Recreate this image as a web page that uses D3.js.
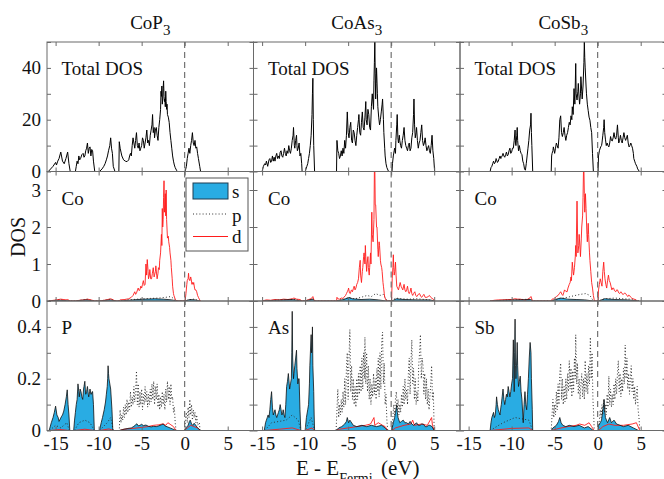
<!DOCTYPE html>
<html>
<head>
<meta charset="utf-8">
<script src="https://cdn.jsdelivr.net/npm/d3@7"></script>
<style>
body { margin: 0; background: #fff; }
svg { display: block; font-family: "Liberation Serif", "Times New Roman", serif; }
</style>
</head>
<body>
<script>
// compounds and the anion of each column
const compounds = ["CoP", "CoAs", "CoSb"];
const anions = ["P", "As", "Sb"];
const xTicks = [-15, -10, -5, 0, 5];
const totTicks = [0, 10, 20, 30, 40, 50];
const coTicks = [0, 1, 2, 3];
const anTicks = [0, 0.1, 0.2, 0.3, 0.4, 0.5];

// ---- CoP3 ----  [energy (eV), DOS]
const cop3Total = [[-15.85,0],[-15.3,2],[-15.0,3.5],[-14.9,2.5],[-14.75,4],[-14.6,5],[-14.4,7.5],[-14.2,4],[-14.0,3],[-13.8,5],[-13.6,7.5],[-13.45,3],[-13.3,0],
  [-12.7,0],[-12.6,2],[-12.5,4],[-12.4,3],[-12.3,6],[-12.2,4.5],[-12.1,5],[-11.95,6.5],[-11.8,7],[-11.7,5.5],[-11.6,6],[-11.5,8],[-11.4,9],[-11.3,11],[-11.2,7],[-11.1,9],[-11.0,9.5],[-10.9,6],[-10.8,8.5],[-10.7,8],[-10.6,4],[-10.45,0],
  [-9.9,0],[-9.6,1],[-9.4,2],[-9.25,3],[-9.1,4.5],[-8.97,6],[-8.85,8],[-8.7,10],[-8.6,13],[-8.5,9],[-8.4,7],[-8.3,2],[-8.1,0],
  [-7.65,0],[-7.6,11.5],[-7.5,9],[-7.4,7.5],[-7.3,6],[-7.1,4.5],[-6.9,4],[-6.7,3.8],[-6.5,4.5],[-6.4,6],[-6.3,7],[-6.2,6],[-6.1,10],[-6.0,13],[-5.9,11],[-5.8,9],[-5.7,12],[-5.6,15],[-5.5,10],[-5.4,9],[-5.3,11],[-5.2,8],[-5.1,9],[-5.0,10],[-4.9,13],[-4.8,12],[-4.7,9],[-4.6,11],[-4.5,13],[-4.4,16],[-4.3,11],[-4.2,12],[-4.1,10],[-4.0,14],[-3.9,16],[-3.8,18],[-3.73,22],[-3.65,15],[-3.55,17],[-3.5,13],[-3.4,16],[-3.3,17],[-3.2,14],[-3.1,12],[-3.0,17],[-2.9,20],[-2.8,24],[-2.75,31],[-2.7,29],[-2.65,33],[-2.6,26],[-2.55,28],[-2.5,32],[-2.45,35],[-2.4,29],[-2.35,27],[-2.3,28],[-2.25,25],[-2.2,31],[-2.15,27],[-2.1,24],[-2.05,26],[-2.0,22],[-1.9,21],[-1.8,19],[-1.7,15],[-1.6,12],[-1.5,9],[-1.4,6],[-1.3,4],[-1.2,2.5],[-1.1,1.5],[-0.95,0.5],[-0.85,0],
  [0.05,0],[0.2,2],[0.3,5],[0.4,7],[0.5,9],[0.6,7],[0.7,10],[0.8,12],[0.9,15],[1.0,11],[1.1,10],[1.2,12],[1.3,9],[1.4,9.5],[1.5,7],[1.6,5],[1.75,2],[1.85,0]];
const cop3CoS = [[-15.8,0],[-14.5,0.02],[-13.3,0],[-12.7,0],[-11.5,0.03],[-10.5,0],[-9.9,0],[-8.6,0.03],[-8.0,0],[-7.6,0],[-6.5,0.02],[-5.5,0.04],[-4.5,0.05],[-3.5,0.06],[-2.5,0.05],[-1.5,0.03],[-0.9,0],[0.0,0],[0.6,0.04],[1.2,0.03],[1.8,0]];
const cop3CoP = [[-15.8,0],[-14.4,0.04],[-13.3,0],[-12.7,0],[-11.4,0.05],[-10.5,0],[-9.9,0],[-8.6,0.05],[-8.0,0],[-7.6,0],[-7.0,0.03],[-6.0,0.04],[-5.0,0.06],[-4.0,0.07],[-3.0,0.08],[-2.2,0.1],[-1.6,0.12],[-1.2,0.05],[-0.9,0],[0.0,0],[0.5,0.03],[1.0,0.05],[1.8,0]];
const cop3CoD = [[-15.8,0],[-15.2,0.02],[-14.4,0.05],[-13.8,0.03],[-13.6,0.04],[-13.3,0],[-12.7,0],[-12.2,0.02],[-11.6,0.03],[-11.3,0.05],[-10.9,0.03],[-10.45,0],[-9.9,0],[-9.1,0.03],[-8.6,0.06],[-8.3,0.03],[-8.05,0],
  [-7.65,0],[-7.5,0.03],[-7.0,0.04],[-6.5,0.06],[-6.2,0.1],[-6.0,0.15],[-5.8,0.25],[-5.7,0.18],[-5.6,0.22],[-5.4,0.35],[-5.3,0.28],[-5.2,0.3],[-5.1,0.4],[-5.0,0.35],[-4.9,0.45],[-4.8,0.55],[-4.7,0.42],[-4.6,0.45],[-4.5,1.0],[-4.42,0.7],[-4.35,1.12],[-4.25,0.8],[-4.2,0.6],[-4.1,0.7],[-4.05,0.85],[-3.95,0.6],[-3.85,0.6],[-3.75,0.75],[-3.65,0.9],[-3.55,0.65],[-3.5,0.7],[-3.4,0.8],[-3.35,0.95],[-3.25,0.7],[-3.2,0.6],[-3.1,0.75],[-3.05,0.9],[-2.95,0.85],[-2.9,1.1],[-2.8,1.3],[-2.7,1.8],[-2.65,1.5],[-2.6,2.5],[-2.55,2.0],[-2.5,2.2],[-2.45,2.8],[-2.4,3.25],[-2.35,2.4],[-2.3,2.6],[-2.25,2.9],[-2.2,2.3],[-2.15,3.0],[-2.1,2.2],[-2.0,1.7],[-1.9,1.75],[-1.85,1.6],[-1.75,1.45],[-1.7,1.3],[-1.6,1.1],[-1.55,0.9],[-1.45,0.6],[-1.4,0.4],[-1.3,0.2],[-1.25,0.15],[-1.1,0.05],[-1.0,0.02],[-0.85,0],
  [0.05,0],[0.15,0.2],[0.25,0.45],[0.3,0.55],[0.4,0.6],[0.45,0.75],[0.5,0.6],[0.6,0.55],[0.7,0.65],[0.75,0.6],[0.85,0.45],[0.9,0.5],[1.0,0.45],[1.05,0.5],[1.15,0.35],[1.2,0.3],[1.3,0.3],[1.4,0.25],[1.5,0.15],[1.6,0.1],[1.7,0.05],[1.85,0]];
const cop3AnS = [[-15.75,0],[-15.5,0.03],[-15.3,0.05],[-15.15,0.07],[-15.0,0.094],[-14.85,0.06],[-14.7,0.05],[-14.6,0.035],[-14.45,0.045],[-14.3,0.055],[-14.2,0.06],[-14.05,0.075],[-13.9,0.1],[-13.75,0.13],[-13.65,0.157],[-13.55,0.1],[-13.45,0.06],[-13.35,0],
  [-12.9,0],[-12.8,0.04],[-12.7,0.07],[-12.6,0.1],[-12.5,0.12],[-12.4,0.18],[-12.3,0.15],[-12.25,0.13],[-12.15,0.16],[-12.05,0.15],[-11.95,0.13],[-11.85,0.12],[-11.75,0.16],[-11.7,0.17],[-11.6,0.19],[-11.55,0.16],[-11.5,0.14],[-11.4,0.15],[-11.3,0.17],[-11.2,0.14],[-11.15,0.13],[-11.05,0.15],[-11.0,0.16],[-10.9,0.14],[-10.85,0.14],[-10.75,0.15],[-10.7,0.15],[-10.6,0.1],[-10.5,0],
  [-9.9,0],[-9.7,0.03],[-9.55,0.05],[-9.35,0.08],[-9.2,0.11],[-9.1,0.14],[-9.0,0.17],[-8.95,0.2],[-8.9,0.25],[-8.85,0.22],[-8.8,0.2],[-8.7,0.18],[-8.6,0.16],[-8.45,0.08],[-8.35,0],
  [-7.6,0],[-7.2,0.004],[-6.6,0.008],[-6.2,0.01],[-5.9,0.016],[-5.7,0.022],[-5.55,0.026],[-5.4,0.018],[-5.2,0.02],[-5.0,0.024],[-4.8,0.019],[-4.5,0.021],[-4.2,0.016],[-3.9,0.014],[-3.6,0.016],[-3.3,0.015],[-3.0,0.018],[-2.7,0.022],[-2.5,0.025],[-2.3,0.018],[-2.0,0.014],[-1.7,0.01],[-1.4,0.006],[-1.0,0],
  [0.0,0],[0.2,0.012],[0.4,0.02],[0.55,0.035],[0.65,0.04],[0.8,0.025],[0.95,0.02],[1.1,0.028],[1.25,0.022],[1.45,0.012],[1.65,0.006],[1.85,0]];
const cop3AnP = [[-15.7,0],[-15.0,0.02],[-14.4,0.01],[-13.7,0.03],[-13.4,0],[-12.8,0],[-12.3,0.03],[-11.6,0.04],[-11.0,0.03],[-10.5,0],[-9.9,0],[-9.0,0.03],[-8.6,0.05],[-8.3,0],
  [-7.6,0],[-7.5,0.08],[-7.4,0.03],[-7.3,0.06],[-7.2,0.04],[-7.1,0.09],[-7.0,0.05],[-6.9,0.1],[-6.8,0.06],[-6.7,0.12],[-6.6,0.07],[-6.5,0.11],[-6.4,0.08],[-6.3,0.15],[-6.2,0.09],[-6.1,0.13],[-6.0,0.1],[-5.9,0.17],[-5.8,0.11],[-5.7,0.15],[-5.6,0.23],[-5.5,0.1],[-5.4,0.18],[-5.3,0.09],[-5.2,0.15],[-5.1,0.1],[-5.0,0.16],[-4.9,0.08],[-4.8,0.14],[-4.7,0.1],[-4.6,0.17],[-4.5,0.11],[-4.4,0.15],[-4.3,0.09],[-4.2,0.14],[-4.1,0.1],[-4.0,0.16],[-3.9,0.11],[-3.8,0.18],[-3.7,0.12],[-3.6,0.19],[-3.5,0.1],[-3.4,0.17],[-3.3,0.12],[-3.2,0.18],[-3.1,0.09],[-3.0,0.14],[-2.9,0.08],[-2.8,0.13],[-2.7,0.09],[-2.6,0.15],[-2.5,0.1],[-2.4,0.14],[-2.3,0.08],[-2.2,0.16],[-2.1,0.11],[-2.0,0.19],[-1.9,0.12],[-1.8,0.17],[-1.7,0.1],[-1.6,0.18],[-1.5,0.12],[-1.4,0.13],[-1.3,0.07],[-1.2,0.09],[-1.1,0.03],[-1.0,0],
  [0.0,0],[0.1,0.05],[0.2,0.07],[0.3,0.03],[0.4,0.09],[0.5,0.05],[0.6,0.12],[0.7,0.06],[0.8,0.1],[0.9,0.04],[1.0,0.08],[1.1,0.05],[1.2,0.07],[1.3,0.03],[1.4,0.06],[1.5,0.02],[1.7,0.03],[1.8,0]];
const cop3AnD = [[-15.7,0],[-14.5,0.004],[-13.4,0],[-12.8,0],[-11.6,0.005],[-10.5,0],[-9.9,0],[-8.8,0.006],[-8.3,0],[-7.6,0],[-7.0,0.005],[-6.0,0.008],[-5.0,0.012],[-4.3,0.015],[-3.6,0.02],[-3.0,0.022],[-2.5,0.026],[-2.2,0.02],[-1.95,0.03],[-1.6,0.022],[-1.3,0.015],[-1.0,0],
  [0.0,0],[0.3,0.01],[0.7,0.02],[1.1,0.015],[1.5,0.01],[1.8,0]];

// ---- CoAs3 ----
const coas3Total = [[-15.0,0],[-14.85,2],[-14.7,3],[-14.6,2.5],[-14.5,4],[-14.35,2],[-14.2,4.5],[-14.1,5],[-14.0,3.5],[-13.9,4],[-13.8,6],[-13.7,4],[-13.6,5.5],[-13.5,4],[-13.4,6],[-13.3,7],[-13.2,5],[-13.1,6],[-13.0,5],[-12.9,7.5],[-12.8,8],[-12.7,6],[-12.6,5.5],[-12.5,7],[-12.4,9],[-12.3,7],[-12.2,6],[-12.1,8],[-12.0,7],[-11.9,10],[-11.8,8],[-11.7,7],[-11.6,9],[-11.5,12],[-11.4,14],[-11.35,17],[-11.25,10],[-11.2,9],[-11.1,12],[-11.0,14],[-10.95,10],[-10.9,8],[-10.8,9],[-10.7,11],[-10.6,6],[-10.5,7],[-10.4,3],[-10.35,0],
  [-10.0,0],[-9.8,2],[-9.7,3],[-9.6,5],[-9.5,7],[-9.4,10],[-9.3,14],[-9.2,22],[-9.15,30],[-9.1,36],[-9.05,20],[-9.0,10],[-8.9,0],
  [-6.35,0],[-6.3,12],[-6.2,8],[-6.1,7],[-6.0,5],[-5.9,6],[-5.8,8],[-5.7,6],[-5.6,9],[-5.5,7],[-5.4,12],[-5.3,9],[-5.2,14],[-5.1,23],[-5.0,15],[-4.9,13],[-4.8,17],[-4.7,19],[-4.6,12],[-4.5,11],[-4.4,16],[-4.3,15],[-4.2,12],[-4.1,10],[-4.0,14],[-3.9,17],[-3.8,20],[-3.75,22],[-3.65,15],[-3.55,14],[-3.45,19],[-3.35,23],[-3.25,17],[-3.15,16],[-3.05,21],[-2.95,27],[-2.9,20],[-2.8,18],[-2.7,24],[-2.6,22],[-2.5,17],[-2.4,16],[-2.3,25],[-2.2,30],[-2.1,26],[-2.05,24],[-2.0,35],[-1.95,42],[-1.9,50],[-1.85,38],[-1.8,28],[-1.75,34],[-1.7,40],[-1.6,30],[-1.55,25],[-1.45,21],[-1.35,18],[-1.25,20],[-1.15,23],[-1.05,26],[-1.0,28],[-0.9,20],[-0.85,15],[-0.75,9],[-0.7,6],[-0.6,3],[-0.5,1.5],[-0.3,0],
  [0.1,0],[0.15,3],[0.25,6],[0.35,8],[0.4,9],[0.5,7],[0.55,12],[0.65,18],[0.7,22],[0.78,13],[0.85,11],[0.95,14],[1.0,12],[1.1,10],[1.2,9],[1.3,12],[1.4,14],[1.5,17],[1.6,12],[1.7,10],[1.8,9],[1.9,8],[2.0,10],[2.1,11],[2.2,8],[2.3,9],[2.4,13],[2.5,15],[2.6,22],[2.65,28],[2.72,18],[2.8,13],[2.9,15],[2.95,17],[3.05,12],[3.15,9],[3.25,11],[3.35,12],[3.45,15],[3.55,18],[3.65,12],[3.75,10],[3.85,11],[3.95,13],[4.05,10],[4.15,8],[4.25,9],[4.35,10],[4.45,8],[4.55,7],[4.65,10],[4.75,14],[4.85,8],[4.95,5],[5.05,0]];
const coas3CoS = [[-15.0,0],[-13.5,0.02],[-11.5,0.04],[-10.4,0],[-10.0,0],[-9.1,0.05],[-8.9,0],[-6.35,0],[-5.5,0.04],[-4.9,0.1],[-4.5,0.06],[-3.5,0.04],[-2.5,0.05],[-1.5,0.03],[-0.6,0],[0.1,0],[0.6,0.06],[1.5,0.04],[3.0,0.03],[4.5,0.03],[5.05,0]];
const coas3CoP = [[-15.0,0],[-12.5,0.03],[-11.3,0.05],[-10.4,0],[-10.0,0],[-9.1,0.06],[-8.9,0],[-6.35,0],[-5.8,0.04],[-5.0,0.08],[-4.2,0.06],[-3.5,0.1],[-2.8,0.15],[-2.3,0.12],[-1.8,0.2],[-1.3,0.15],[-0.9,0.18],[-0.6,0.05],[-0.4,0],[0.1,0],[0.5,0.08],[1.2,0.06],[2.0,0.05],[3.0,0.06],[4.0,0.04],[5.0,0]];
const coas3CoD = [[-15.0,0],[-14.5,0.03],[-14.0,0.02],[-13.5,0.04],[-13.0,0.03],[-12.5,0.05],[-12.0,0.04],[-11.5,0.06],[-11.3,0.08],[-11.0,0.05],[-10.6,0.04],[-10.35,0],[-10.0,0],[-9.6,0.04],[-9.3,0.06],[-9.1,0.12],[-9.0,0.05],[-8.9,0],
  [-6.35,0],[-6.3,0.1],[-6.2,0.06],[-6.0,0.05],[-5.8,0.08],[-5.6,0.07],[-5.5,0.1],[-5.3,0.15],[-5.2,0.2],[-5.1,0.25],[-5.0,0.3],[-4.95,0.35],[-4.85,0.22],[-4.75,0.2],[-4.65,0.28],[-4.6,0.3],[-4.5,0.25],[-4.4,0.33],[-4.3,0.4],[-4.2,0.3],[-4.1,0.35],[-4.0,0.45],[-3.9,0.5],[-3.8,0.6],[-3.7,0.9],[-3.6,1.1],[-3.55,0.7],[-3.45,0.5],[-3.35,0.8],[-3.3,0.9],[-3.2,1.2],[-3.15,1.3],[-3.05,1.0],[-3.0,1.5],[-2.95,1.2],[-2.85,0.8],[-2.8,1.0],[-2.7,1.2],[-2.65,0.9],[-2.55,0.7],[-2.5,0.9],[-2.4,1.3],[-2.35,1.0],[-2.25,2.4],[-2.2,1.8],[-2.1,1.6],[-2.0,2.2],[-1.95,3.5],[-1.9,3.6],[-1.85,2.6],[-1.8,2.6],[-1.7,2.0],[-1.65,2.0],[-1.55,1.4],[-1.5,1.2],[-1.4,1.6],[-1.35,1.5],[-1.25,1.1],[-1.2,1.0],[-1.1,0.9],[-1.05,0.8],[-0.95,0.5],[-0.9,0.4],[-0.8,0.2],[-0.75,0.1],[-0.6,0.03],[-0.5,0],
  [0.05,0],[0.12,0.6],[0.2,0.9],[0.25,1.25],[0.3,0.9],[0.35,0.7],[0.42,0.8],[0.5,1.05],[0.57,0.7],[0.65,0.4],[0.75,0.35],[0.85,0.3],[0.95,0.4],[1.05,0.5],[1.15,0.4],[1.25,0.35],[1.35,0.3],[1.5,0.45],[1.6,0.3],[1.7,0.25],[1.8,0.3],[1.9,0.4],[2.0,0.25],[2.1,0.2],[2.2,0.25],[2.3,0.35],[2.4,0.2],[2.5,0.15],[2.6,0.2],[2.75,0.25],[2.85,0.15],[3.0,0.12],[3.15,0.18],[3.3,0.2],[3.45,0.12],[3.55,0.1],[3.7,0.15],[3.8,0.18],[3.95,0.1],[4.15,0.1],[4.3,0.12],[4.45,0.15],[4.6,0.1],[4.75,0.07],[4.9,0.05],[5.05,0]];
const coas3AnS = [[-14.75,0],[-14.6,0.03],[-14.5,0.04],[-14.4,0.05],[-14.3,0.06],[-14.2,0.05],[-14.1,0.08],[-14.0,0.12],[-13.9,0.15],[-13.8,0.09],[-13.7,0.06],[-13.6,0.07],[-13.5,0.08],[-13.4,0.06],[-13.3,0.05],[-13.2,0.06],[-13.1,0.07],[-13.0,0.08],[-12.9,0.1],[-12.8,0.08],[-12.7,0.06],[-12.6,0.07],[-12.55,0.08],[-12.45,0.06],[-12.35,0.05],[-12.25,0.1],[-12.15,0.17],[-12.05,0.19],[-11.95,0.22],[-11.85,0.18],[-11.8,0.16],[-11.7,0.18],[-11.6,0.2],[-11.55,0.3],[-11.5,0.46],[-11.45,0.28],[-11.35,0.2],[-11.3,0.22],[-11.2,0.25],[-11.1,0.28],[-11.0,0.31],[-10.95,0.24],[-10.85,0.18],[-10.75,0.2],[-10.7,0.2],[-10.6,0.08],[-10.5,0],
  [-10.0,0],[-9.85,0.05],[-9.7,0.08],[-9.6,0.1],[-9.5,0.18],[-9.45,0.25],[-9.35,0.33],[-9.3,0.37],[-9.25,0.3],[-9.2,0.32],[-9.15,0.4],[-9.1,0.25],[-9.0,0.15],[-8.95,0.06],[-8.9,0],
  [-6.4,0],[-6.1,0.01],[-5.75,0.015],[-5.4,0.025],[-5.2,0.035],[-5.1,0.05],[-4.95,0.03],[-4.8,0.04],[-4.7,0.035],[-4.4,0.02],[-4.0,0.015],[-3.4,0.02],[-2.85,0.015],[-2.3,0.02],[-1.7,0.015],[-1.1,0.02],[-0.7,0.01],[-0.4,0],
  [0.05,0],[0.25,0.03],[0.4,0.05],[0.5,0.07],[0.6,0.09],[0.65,0.1],[0.72,0.07],[0.8,0.05],[1.0,0.03],[1.2,0.035],[1.4,0.04],[1.6,0.03],[1.8,0.03],[2.0,0.025],[2.2,0.035],[2.4,0.025],[2.6,0.02],[2.8,0.025],[2.95,0.03],[3.15,0.02],[3.35,0.02],[3.55,0.025],[3.75,0.025],[3.95,0.015],[4.15,0.015],[4.35,0.02],[4.5,0.02],[4.75,0.015],[5.0,0]];
const coas3AnP = [[-14.7,0],[-13.9,0.03],[-12.2,0.04],[-11.5,0.06],[-10.8,0.04],[-10.5,0],[-10.0,0],[-9.3,0.05],[-8.9,0],
  [-6.4,0],[-6.3,0.08],[-6.2,0.16],[-6.1,0.05],[-6.0,0.1],[-5.9,0.06],[-5.8,0.12],[-5.7,0.07],[-5.6,0.15],[-5.5,0.09],[-5.4,0.2],[-5.3,0.1],[-5.2,0.24],[-5.1,0.3],[-5.0,0.12],[-4.9,0.28],[-4.8,0.39],[-4.7,0.15],[-4.6,0.25],[-4.5,0.12],[-4.4,0.2],[-4.3,0.1],[-4.2,0.17],[-4.1,0.09],[-4.0,0.2],[-3.9,0.12],[-3.8,0.22],[-3.7,0.14],[-3.6,0.25],[-3.5,0.15],[-3.4,0.28],[-3.3,0.16],[-3.2,0.3],[-3.1,0.2],[-3.05,0.36],[-2.95,0.18],[-2.85,0.3],[-2.75,0.15],[-2.65,0.25],[-2.55,0.12],[-2.45,0.2],[-2.35,0.1],[-2.25,0.18],[-2.15,0.13],[-2.05,0.22],[-1.95,0.14],[-1.85,0.2],[-1.75,0.12],[-1.65,0.24],[-1.55,0.15],[-1.5,0.28],[-1.4,0.13],[-1.3,0.3],[-1.2,0.16],[-1.1,0.34],[-1.0,0.38],[-0.9,0.18],[-0.8,0.26],[-0.7,0.1],[-0.6,0.14],[-0.5,0.04],[-0.4,0],
  [0.1,0],[0.2,0.05],[0.3,0.1],[0.4,0.06],[0.5,0.12],[0.6,0.15],[0.7,0.08],[0.8,0.12],[0.9,0.06],[1.0,0.1],[1.1,0.07],[1.2,0.14],[1.3,0.09],[1.4,0.17],[1.5,0.1],[1.6,0.2],[1.7,0.12],[1.8,0.16],[1.9,0.1],[2.0,0.22],[2.1,0.28],[2.2,0.14],[2.3,0.26],[2.4,0.35],[2.5,0.18],[2.6,0.24],[2.7,0.12],[2.8,0.2],[2.9,0.1],[3.0,0.15],[3.1,0.11],[3.2,0.25],[3.3,0.3],[3.4,0.37],[3.5,0.2],[3.6,0.28],[3.7,0.25],[3.8,0.14],[3.9,0.22],[4.0,0.12],[4.1,0.2],[4.2,0.1],[4.3,0.16],[4.4,0.08],[4.5,0.13],[4.6,0.18],[4.7,0.25],[4.8,0.12],[4.9,0.15],[5.0,0]];
const coas3AnD = [[-14.7,0],[-13.0,0.005],[-11.5,0.01],[-10.5,0],[-10.0,0],[-9.2,0.01],[-8.9,0],[-6.4,0],[-6.0,0.005],[-5.0,0.01],[-4.0,0.015],[-3.0,0.02],[-2.4,0.025],[-2.0,0.05],[-1.9,0.02],[-1.5,0.03],[-1.0,0.02],[-0.7,0.015],[-0.4,0],
  [0.1,0],[0.5,0.01],[1.5,0.02],[2.3,0.025],[2.5,0.04],[2.7,0.02],[3.5,0.025],[4.2,0.02],[4.7,0.05],[4.8,0.02],[5.0,0]];

// ---- CoSb3 ----
const cosb3Total = [[-12.5,0],[-12.4,1.5],[-12.3,2],[-12.2,3],[-12.1,4],[-12.0,3],[-11.9,3.5],[-11.8,5],[-11.75,4.5],[-11.65,3.5],[-11.55,4],[-11.45,5],[-11.35,6],[-11.25,5],[-11.2,5.5],[-11.1,6],[-11.0,7],[-10.9,6],[-10.8,5.5],[-10.7,6.5],[-10.6,7.5],[-10.5,6],[-10.4,6.5],[-10.3,8],[-10.2,9],[-10.1,7],[-10.0,7.5],[-9.9,9],[-9.8,9],[-9.7,12],[-9.6,16],[-9.55,11],[-9.5,10],[-9.4,14],[-9.35,17],[-9.3,12],[-9.2,8],[-9.1,10],[-9.0,8],[-8.9,7],[-8.8,6.5],[-8.7,4],[-8.6,3],[-8.5,1],[-8.4,0.5],[-8.3,3],[-8.2,6],[-8.1,9],[-8.0,12],[-7.9,16],[-7.8,18],[-7.75,22.5],[-7.7,15],[-7.65,10],[-7.55,0],
  [-5.4,0],[-5.35,6],[-5.3,7],[-5.2,8],[-5.15,9.5],[-5.05,8],[-5.0,7],[-4.9,9],[-4.8,11],[-4.7,10],[-4.6,9],[-4.5,13],[-4.4,20],[-4.3,21.5],[-4.2,15],[-4.1,13.5],[-4.0,15],[-3.9,17],[-3.8,14],[-3.7,12],[-3.6,14],[-3.5,15],[-3.4,17],[-3.3,19],[-3.2,18],[-3.1,21.5],[-3.0,20],[-2.95,25],[-2.85,22],[-2.75,32],[-2.65,26],[-2.55,41.7],[-2.5,30],[-2.4,27.6],[-2.3,31],[-2.25,34],[-2.15,28],[-2.1,26],[-2.0,30],[-1.95,36.6],[-1.85,31],[-1.8,28],[-1.7,33],[-1.6,42],[-1.55,50],[-1.5,44],[-1.45,40],[-1.35,33],[-1.3,30],[-1.2,26],[-1.1,23.5],[-1.0,21],[-0.9,19.8],[-0.8,17],[-0.7,15],[-0.6,7],[-0.5,0],
  [0.05,0],[0.1,6],[0.2,8],[0.35,9.5],[0.45,10],[0.5,11],[0.6,14],[0.7,17],[0.75,20],[0.82,15],[0.9,12.5],[1.0,10],[1.1,11],[1.2,10],[1.3,9.5],[1.4,11],[1.5,13.5],[1.6,12],[1.7,11.8],[1.8,13],[1.9,15],[2.0,13],[2.1,12.5],[2.2,14],[2.3,18],[2.4,13],[2.45,11],[2.55,12],[2.65,14],[2.75,12],[2.85,11],[2.95,13],[3.05,15],[3.15,13],[3.25,12],[3.35,13],[3.45,14],[3.55,11],[3.65,9.5],[3.75,10],[3.85,11],[3.95,10],[4.05,9],[4.15,7],[4.2,5],[4.3,4],[4.4,3],[4.55,2],[4.65,1],[4.85,0]];
const cosb3CoS = [[-12.5,0],[-11.0,0.02],[-9.5,0.03],[-7.8,0.04],[-7.55,0],[-5.4,0],[-4.8,0.05],[-4.3,0.08],[-3.5,0.05],[-2.5,0.04],[-1.5,0.03],[-0.5,0],[0.1,0],[0.8,0.06],[2.0,0.04],[3.5,0.03],[4.8,0]];
const cosb3CoP = [[-12.5,0],[-10.0,0.03],[-7.8,0.05],[-7.55,0],[-5.4,0],[-4.5,0.06],[-3.5,0.1],[-2.8,0.14],[-2.0,0.18],[-1.4,0.2],[-0.9,0.15],[-0.5,0],[0.1,0],[0.8,0.06],[2.0,0.08],[3.0,0.06],[4.0,0.05],[4.8,0]];
const cosb3CoD = [[-12.5,0],[-12.0,0.02],[-11.5,0.03],[-11.0,0.03],[-10.5,0.04],[-10.0,0.04],[-9.6,0.06],[-9.3,0.05],[-9.0,0.05],[-8.6,0.03],[-8.4,0.02],[-8.1,0.05],[-7.8,0.1],[-7.75,0.12],[-7.65,0.05],[-7.55,0],
  [-5.4,0],[-5.3,0.05],[-5.1,0.06],[-5.0,0.08],[-4.8,0.12],[-4.6,0.15],[-4.45,0.2],[-4.3,0.25],[-4.15,0.18],[-4.05,0.15],[-3.95,0.22],[-3.85,0.3],[-3.7,0.26],[-3.55,0.25],[-3.45,0.35],[-3.3,0.45],[-3.2,0.5],[-3.1,0.65],[-3.05,0.55],[-2.95,1.05],[-2.85,0.8],[-2.8,0.7],[-2.7,0.9],[-2.6,1.2],[-2.55,1.5],[-2.5,1.2],[-2.45,2.0],[-2.4,2.7],[-2.35,2.0],[-2.3,1.3],[-2.2,1.5],[-2.15,1.8],[-2.05,1.4],[-2.0,1.2],[-1.9,1.7],[-1.85,2.0],[-1.75,2.3],[-1.7,2.8],[-1.65,3.5],[-1.6,3.6],[-1.55,2.9],[-1.5,2.4],[-1.42,2.9],[-1.35,2.5],[-1.25,1.8],[-1.2,1.6],[-1.1,2.1],[-1.05,1.8],[-0.95,1.3],[-0.9,1.1],[-0.8,0.8],[-0.7,0.5],[-0.6,0.35],[-0.5,0.15],[-0.4,0.03],[-0.35,0],
  [0.05,0],[0.1,0.3],[0.2,0.45],[0.3,0.6],[0.4,0.5],[0.5,0.4],[0.6,0.8],[0.7,1.05],[0.77,0.8],[0.85,0.6],[0.95,0.45],[1.05,0.35],[1.15,0.55],[1.25,0.7],[1.35,0.55],[1.45,0.5],[1.55,0.4],[1.65,0.3],[1.75,0.35],[1.85,0.35],[1.95,0.28],[2.1,0.25],[2.2,0.3],[2.3,0.3],[2.45,0.22],[2.55,0.2],[2.7,0.25],[2.8,0.22],[2.9,0.18],[3.0,0.18],[3.15,0.22],[3.25,0.2],[3.4,0.15],[3.5,0.12],[3.6,0.16],[3.7,0.15],[3.85,0.1],[3.95,0.08],[4.1,0.06],[4.35,0.04],[4.65,0]];
const cosb3AnS = [[-12.5,0],[-12.4,0.03],[-12.3,0.05],[-12.2,0.06],[-12.1,0.07],[-12.0,0.05],[-11.9,0.06],[-11.8,0.1],[-11.75,0.13],[-11.65,0.1],[-11.55,0.08],[-11.45,0.07],[-11.35,0.06],[-11.25,0.09],[-11.2,0.1],[-11.1,0.13],[-11.0,0.16],[-10.9,0.12],[-10.8,0.1],[-10.7,0.12],[-10.6,0.14],[-10.5,0.13],[-10.4,0.17],[-10.3,0.15],[-10.2,0.13],[-10.1,0.15],[-10.0,0.18],[-9.9,0.2],[-9.8,0.35],[-9.75,0.25],[-9.7,0.15],[-9.65,0.3],[-9.6,0.43],[-9.55,0.25],[-9.5,0.2],[-9.4,0.28],[-9.35,0.34],[-9.3,0.25],[-9.2,0.17],[-9.1,0.19],[-9.0,0.21],[-8.9,0.15],[-8.8,0.12],[-8.7,0.06],[-8.65,0.03],[-8.55,0.1],[-8.45,0.15],[-8.35,0.1],[-8.25,0.08],[-8.15,0.14],[-8.05,0.2],[-7.95,0.28],[-7.85,0.34],[-7.75,0.3],[-7.7,0.2],[-7.6,0.08],[-7.55,0],
  [-5.4,0],[-5.2,0.01],[-4.8,0.02],[-4.55,0.035],[-4.4,0.05],[-4.25,0.03],[-4.05,0.02],[-3.7,0.015],[-3.3,0.02],[-2.75,0.015],[-2.15,0.02],[-1.55,0.01],[-1.1,0.015],[-0.5,0],
  [0.05,0],[0.1,0.02],[0.3,0.03],[0.45,0.04],[0.6,0.08],[0.7,0.1],[0.75,0.12],[0.82,0.08],[0.9,0.05],[1.15,0.03],[1.4,0.05],[1.6,0.03],[1.9,0.04],[2.2,0.025],[2.6,0.02],[3.0,0.015],[3.55,0.02],[4.15,0.01],[4.75,0]];
const cosb3AnP = [[-12.5,0],[-11.0,0.03],[-9.6,0.05],[-8.0,0.04],[-7.55,0],
  [-5.4,0],[-5.3,0.06],[-5.2,0.12],[-5.1,0.05],[-5.0,0.1],[-4.9,0.06],[-4.8,0.15],[-4.7,0.08],[-4.6,0.18],[-4.5,0.1],[-4.4,0.22],[-4.3,0.26],[-4.2,0.12],[-4.1,0.2],[-4.0,0.1],[-3.9,0.17],[-3.8,0.11],[-3.7,0.2],[-3.6,0.12],[-3.5,0.22],[-3.4,0.15],[-3.3,0.27],[-3.2,0.16],[-3.1,0.24],[-3.0,0.13],[-2.9,0.23],[-2.8,0.15],[-2.7,0.28],[-2.6,0.2],[-2.55,0.37],[-2.45,0.18],[-2.35,0.26],[-2.25,0.14],[-2.15,0.2],[-2.05,0.12],[-1.95,0.18],[-1.85,0.22],[-1.75,0.13],[-1.65,0.2],[-1.55,0.12],[-1.45,0.27],[-1.35,0.15],[-1.25,0.22],[-1.15,0.14],[-1.05,0.25],[-0.95,0.18],[-0.85,0.36],[-0.75,0.2],[-0.65,0.3],[-0.55,0.12],[-0.45,0.05],[-0.4,0],
  [0.1,0],[0.2,0.04],[0.3,0.08],[0.4,0.05],[0.5,0.1],[0.6,0.06],[0.7,0.12],[0.8,0.07],[0.9,0.1],[1.0,0.06],[1.1,0.14],[1.2,0.09],[1.3,0.21],[1.4,0.1],[1.5,0.16],[1.6,0.09],[1.7,0.14],[1.8,0.1],[1.9,0.18],[2.0,0.12],[2.1,0.2],[2.2,0.14],[2.3,0.22],[2.4,0.27],[2.5,0.15],[2.6,0.22],[2.7,0.13],[2.8,0.2],[2.9,0.15],[3.0,0.24],[3.1,0.18],[3.2,0.33],[3.3,0.2],[3.4,0.28],[3.5,0.16],[3.6,0.22],[3.7,0.14],[3.8,0.2],[3.9,0.25],[4.0,0.15],[4.1,0.2],[4.2,0.12],[4.3,0.17],[4.4,0.1],[4.5,0.14],[4.6,0.17],[4.7,0.08],[4.8,0.05],[4.9,0]];
const cosb3AnD = [[-12.5,0],[-10.0,0.008],[-8.0,0.01],[-7.55,0],[-5.4,0],[-4.5,0.008],[-3.5,0.015],[-2.5,0.02],[-2.1,0.025],[-1.5,0.02],[-1.0,0.03],[-0.7,0.015],[-0.4,0],
  [0.1,0],[0.6,0.015],[1.3,0.025],[2.0,0.02],[3.0,0.02],[4.0,0.025],[4.5,0.03],[4.9,0]];

const totals = [cop3Total, coas3Total, cosb3Total];
const coSets = [
  {s: cop3CoS, p: cop3CoP, d: cop3CoD},
  {s: coas3CoS, p: coas3CoP, d: coas3CoD},
  {s: cosb3CoS, p: cosb3CoP, d: cosb3CoD}
];
const anSets = [
  {s: cop3AnS, p: cop3AnP, d: cop3AnD},
  {s: coas3AnS, p: coas3AnP, d: coas3AnD},
  {s: cosb3AnS, p: cosb3AnP, d: cosb3AnD}
];

const W = 664, H = 479;
const colLeft = [47, 253.5, 460];
const rowTop = [42, 171.5, 301];
const pw = 206.5, ph = 129.5;
const blue = "#29ace3", red = "#ff1c1c", frameColor = "#6a6a6a";

const svg = d3.select("body").append("svg").attr("width", W).attr("height", H);

const x = d3.scaleLinear().domain([-16, 8]).range([0, pw]);
const yScales = [
  d3.scaleLinear().domain([0, 50]).range([ph, 0]),
  d3.scaleLinear().domain([0, 3.5]).range([ph, 0]),
  d3.scaleLinear().domain([0, 0.5]).range([ph, 0])
];
const yTickVals = [totTicks, coTicks, anTicks];
const yFmt = [
  d => (d % 20 === 0 ? String(d) : ""),
  d => String(d),
  d => (d === 0 ? "0" : (Math.round(d * 10) % 2 === 0 ? d.toFixed(1) : ""))
];
const blank = () => "";

function styleAxis(sel) {
  sel.select(".domain").remove();
  sel.selectAll(".tick line").attr("stroke", frameColor);
  sel.selectAll("text")
    .attr("font-family", "Liberation Serif, Times New Roman, serif")
    .attr("font-size", 19)
    .attr("fill", "#111");
  sel.attr("font-family", null).attr("font-size", null);
}

compounds.forEach((name, c) => {
  [0, 1, 2].forEach(r => {
    const y = yScales[r];
    const g = svg.append("g").attr("transform", `translate(${colLeft[c]},${rowTop[r]})`);
    const clipId = `clip${r}${c}`;
    g.append("clipPath").attr("id", clipId)
      .append("rect").attr("width", pw).attr("height", ph);
    const plot = g.append("g").attr("clip-path", `url(#${clipId})`);

    const line = d3.line().x(d => x(d[0])).y(d => y(d[1]));
    const area = d3.area().x(d => x(d[0])).y0(y(0)).y1(d => y(d[1]));

    if (r === 0) {
      plot.append("path").datum(totals[c])
        .attr("d", line).attr("fill", "none")
        .attr("stroke", "#000").attr("stroke-width", 1).attr("stroke-linejoin", "round");
    } else {
      const set = r === 1 ? coSets[c] : anSets[c];
      plot.append("path").datum(set.s).attr("d", area).attr("fill", blue);
      plot.append("path").datum(set.p).attr("d", line).attr("fill", "none")
        .attr("stroke", "#333").attr("stroke-width", 1).attr("stroke-dasharray", "1,2.2");
      plot.append("path").datum(set.d).attr("d", line).attr("fill", "none")
        .attr("stroke", red).attr("stroke-width", 0.9);
      plot.append("path").datum(set.s).attr("d", line).attr("fill", "none")
        .attr("stroke", "#111").attr("stroke-width", 0.8);
    }

    // Fermi level
    g.append("line")
      .attr("x1", x(0)).attr("x2", x(0)).attr("y1", 0).attr("y2", ph)
      .attr("stroke", "#666").attr("stroke-width", 1.1).attr("stroke-dasharray", "6,4");

    // ticks all round, labels only on outer edges
    g.append("g").attr("transform", `translate(0,${ph})`)
      .call(d3.axisBottom(x).tickValues(xTicks).tickSize(-4).tickSizeOuter(0).tickPadding(6)
        .tickFormat(r === 2 ? d => String(d) : blank))
      .call(styleAxis);
    g.append("g")
      .call(d3.axisTop(x).tickValues(xTicks).tickSize(-4).tickSizeOuter(0).tickFormat(blank))
      .call(styleAxis);
    g.append("g")
      .call(d3.axisLeft(y).tickValues(yTickVals[r]).tickSize(-4).tickSizeOuter(0).tickPadding(6)
        .tickFormat(c === 0 ? yFmt[r] : blank))
      .call(styleAxis);
    g.append("g").attr("transform", `translate(${pw},0)`)
      .call(d3.axisRight(y).tickValues(yTickVals[r]).tickSize(-4).tickSizeOuter(0).tickFormat(blank))
      .call(styleAxis);

    g.append("rect").attr("width", pw).attr("height", ph)
      .attr("fill", "none").attr("stroke", frameColor).attr("stroke-width", 1);

    const label = r === 0 ? "Total DOS" : (r === 1 ? "Co" : anions[c]);
    g.append("text").attr("x", 14.5).attr("y", 33)
      .attr("font-size", 19).attr("fill", "#111").text(label);
  });

  // column title with subscript
  const t = svg.append("text")
    .attr("x", colLeft[c] + pw / 2).attr("y", 29)
    .attr("text-anchor", "middle").attr("font-size", 19).attr("fill", "#111");
  t.append("tspan").text(name);
  t.append("tspan").attr("dy", 6).attr("font-size", 15).text("3");
});

// y axis title
svg.append("text")
  .attr("transform", "translate(25,237) rotate(-90)")
  .attr("text-anchor", "middle").attr("font-size", 20).attr("fill", "#111")
  .text("DOS");

// x axis title: E - E_Fermi (eV)
const xl = svg.append("text").attr("y", 475).attr("font-size", 21).attr("fill", "#111");
xl.append("tspan").attr("x", 296).text("E - E");
xl.append("tspan").attr("dy", 8).attr("font-size", 14).text("Fermi");
xl.append("tspan").attr("dy", -8).attr("x", 381).text("(eV)");

// legend (inside Co panel of CoP3)
const lg = svg.append("g").attr("transform", "translate(186,178)");
lg.append("rect").attr("width", 62).attr("height", 73)
  .attr("fill", "#fff").attr("stroke", "#555").attr("stroke-width", 1);
lg.append("rect").attr("x", 7).attr("y", 5).attr("width", 35).attr("height", 16)
  .attr("fill", blue).attr("stroke", "#1e3d52").attr("stroke-width", 1);
lg.append("line").attr("x1", 7).attr("x2", 42).attr("y1", 36).attr("y2", 36)
  .attr("stroke", "#333").attr("stroke-width", 1).attr("stroke-dasharray", "1,2.2");
lg.append("line").attr("x1", 7).attr("x2", 42).attr("y1", 58.5).attr("y2", 58.5)
  .attr("stroke", red).attr("stroke-width", 1);
const legendKeys = ["s", "p", "d"];
const legendY = [20, 44, 65];
legendKeys.forEach((k, i) => {
  lg.append("text").attr("x", 46).attr("y", legendY[i])
    .attr("font-size", 19).attr("fill", "#111").text(k);
});
</script>
</body>
</html>
